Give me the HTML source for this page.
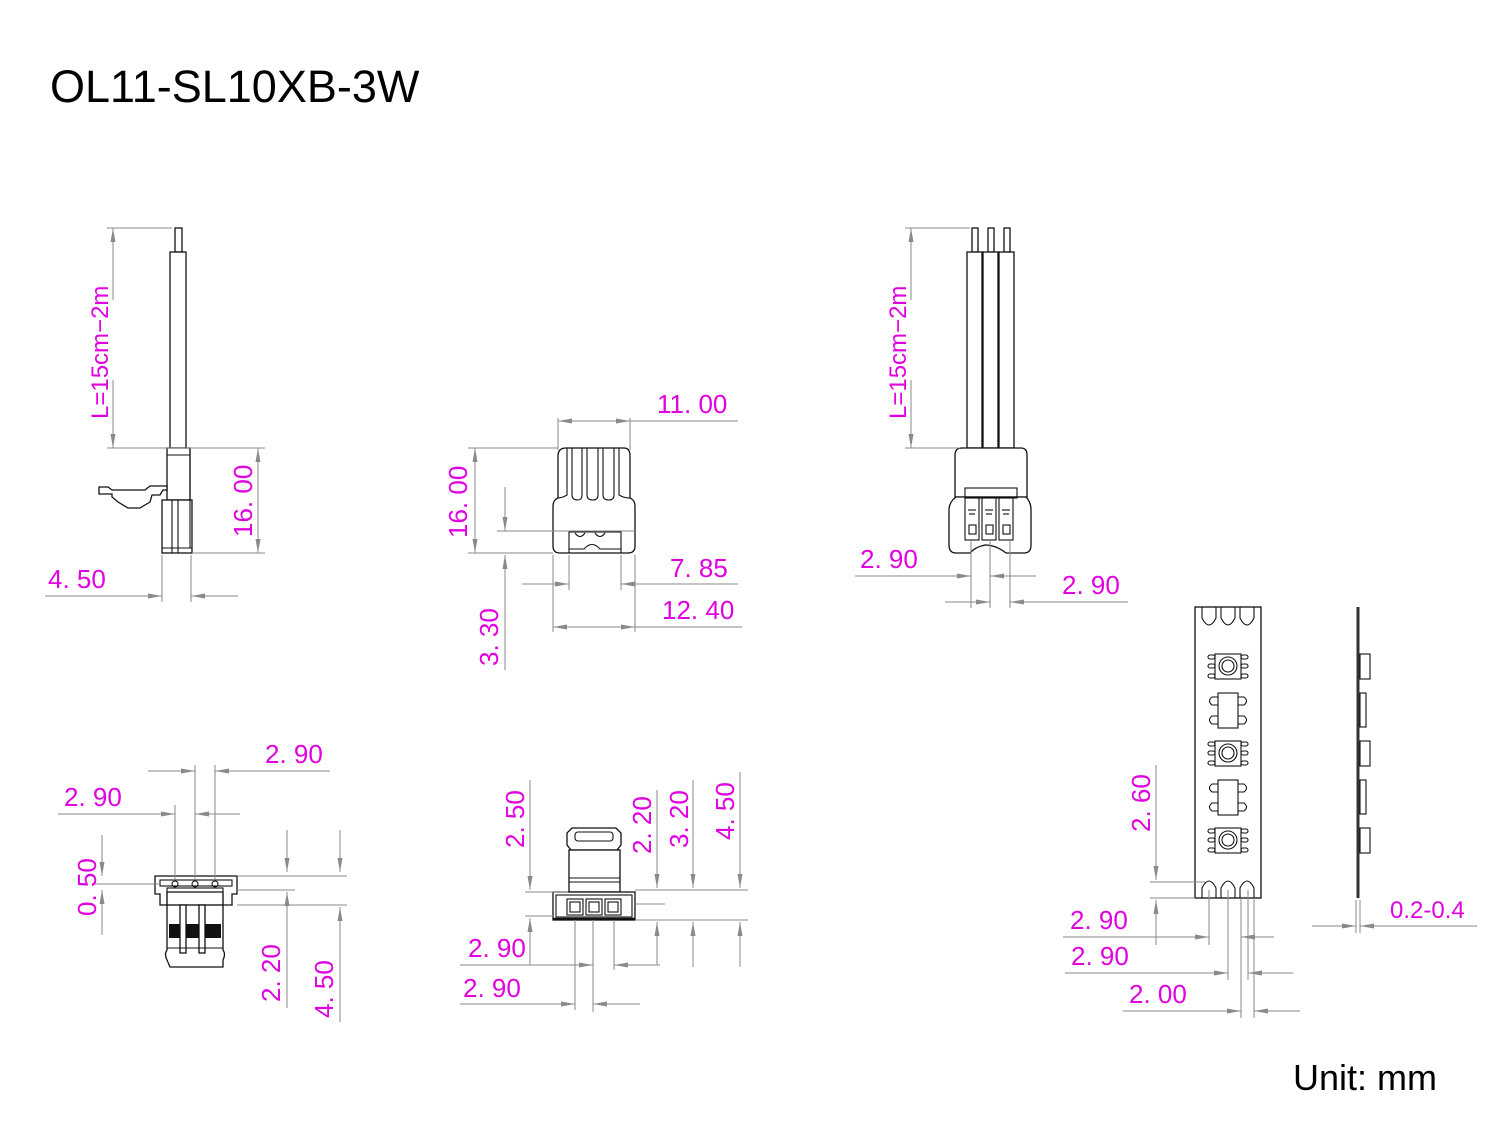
<!DOCTYPE html>
<html><head><meta charset="utf-8"><style>
html,body{margin:0;padding:0;background:#fff;}
svg{display:block}
.d{font-family:"Liberation Sans",sans-serif;font-size:26px;fill:#e000e0}
.g{stroke:#8a8a8a;stroke-width:1;fill:none}
.k{stroke:#111;stroke-width:1.3;fill:#fff}
.kl{stroke:#111;stroke-width:1.1;fill:none}
</style></head><body>
<svg width="1500" height="1125" viewBox="0 0 1500 1125" xmlns="http://www.w3.org/2000/svg">
<defs>
<marker id="a" viewBox="0 0 14 6" refX="14" refY="3" markerWidth="14" markerHeight="6" markerUnits="userSpaceOnUse" orient="auto">
<path d="M0,0.5 L14,3 L0,5.5 z" fill="#8a8a8a"/></marker>
</defs>
<text x="50" y="102" font-family="Liberation Sans, sans-serif" font-size="45" fill="#000">OL11-SL10XB-3W</text>
<text x="1293" y="1090" font-family="Liberation Sans, sans-serif" font-size="36" fill="#000">Unit: mm</text>

<!-- ===== View 1 ===== -->
<g>
<rect class="k" x="175" y="228" width="7" height="24"/>
<rect class="k" x="170" y="252" width="16" height="196"/>
<rect class="k" x="167" y="448" width="23" height="52"/>
<line class="kl" x1="167" y1="455" x2="190" y2="455"/>
<rect class="k" x="162" y="500" width="30" height="53"/>
<line class="kl" x1="172" y1="500" x2="172" y2="553"/>
<line class="kl" x1="178" y1="500" x2="178" y2="553"/>
<line class="kl" x1="162" y1="548" x2="192" y2="548"/>
<line class="kl" x1="190" y1="448" x2="190" y2="548"/>
<path class="k" d="M99,487 L99,494 L112,494 L112,497 L118,502 L128,508 L140,508 L150,502 L152,495 L160,495 L163,490 L167,490 L167,486 L150,486 L145,490 L112,490 L108,487 z"/>
<line class="g" x1="107" y1="228" x2="172" y2="228"/>
<line class="g" x1="107" y1="448" x2="265" y2="448"/>
<line class="g" x1="192" y1="553" x2="265" y2="553"/>
<line class="g" x1="113" y1="300" x2="113" y2="228" marker-end="url(#a)"/>
<line class="g" x1="113" y1="380" x2="113" y2="448" marker-end="url(#a)"/>
<line class="g" x1="258" y1="500" x2="258" y2="448" marker-end="url(#a)"/>
<line class="g" x1="258" y1="500" x2="258" y2="553" marker-end="url(#a)"/>
<line class="g" x1="162" y1="555" x2="162" y2="602"/>
<line class="g" x1="191" y1="555" x2="191" y2="602"/>
<line class="g" x1="45" y1="596" x2="162" y2="596" marker-end="url(#a)"/>
<line class="g" x1="238" y1="596" x2="191" y2="596" marker-end="url(#a)"/>
<text class="d" x="48" y="588">4. 50</text>
<text class="d" transform="translate(252,537) rotate(-90)">16. 00</text>
<text class="d" style="font-size:24px" transform="translate(108,419) rotate(-90)">L=15cm−2m</text>
</g>

<!-- ===== View 2 ===== -->
<g>
<path class="k" d="M566,448 L624,448 Q630,448 630,456 L630,498 Q635,500 635,506 L635,546 Q635,553 628,553 L560,553 Q553,553 553,546 L553,506 Q553,500 558,498 L558,456 Q558,448 566,448 z"/>
<path class="kl" d="M558,498 Q562,498 567,495 L567,448 M572,448 L572,495 Q572,500 578,500 Q582,500 582,495 L582,448 M587,448 L587,495 Q587,500 593,500 Q598,500 598,495 L598,448 M603,448 L603,495 Q603,500 609,500 Q614,500 614,495 L614,448 M619,448 L619,495 Q624,498 630,498"/>
<path class="kl" d="M569,553 L569,532 L621,532 L621,553 M569,549 L584,549 Q592,540 600,549 L621,549 M575,533 Q580,540 585,533 M595,533 Q600,540 605,533"/>
<line class="g" x1="558" y1="418" x2="558" y2="450"/>
<line class="g" x1="630" y1="418" x2="630" y2="450"/>
<line class="g" x1="594" y1="421" x2="558" y2="421" marker-end="url(#a)"/>
<line class="g" x1="594" y1="421" x2="630" y2="421" marker-end="url(#a)"/>
<line class="g" x1="630" y1="421" x2="738" y2="421"/>
<text class="d" x="657" y="413">11. 00</text>
<line class="g" x1="468" y1="448" x2="558" y2="448"/>
<line class="g" x1="468" y1="553" x2="553" y2="553"/>
<line class="g" x1="475" y1="500" x2="475" y2="448" marker-end="url(#a)"/>
<line class="g" x1="475" y1="500" x2="475" y2="553" marker-end="url(#a)"/>
<text class="d" transform="translate(467,538) rotate(-90)">16. 00</text>
<line class="g" x1="497" y1="531" x2="635" y2="531"/>
<line class="g" x1="505" y1="487" x2="505" y2="531" marker-end="url(#a)"/>
<line class="g" x1="505" y1="670" x2="505" y2="555" marker-end="url(#a)"/>
<text class="d" transform="translate(498,666) rotate(-90)">3. 30</text>
<line class="g" x1="553" y1="555" x2="553" y2="632"/>
<line class="g" x1="635" y1="555" x2="635" y2="632"/>
<line class="g" x1="569" y1="555" x2="569" y2="590"/>
<line class="g" x1="621" y1="555" x2="621" y2="590"/>
<line class="g" x1="522" y1="584" x2="569" y2="584" marker-end="url(#a)"/>
<line class="g" x1="738" y1="584" x2="621" y2="584" marker-end="url(#a)"/>
<text class="d" x="670" y="577">7. 85</text>
<line class="g" x1="594" y1="627" x2="553" y2="627" marker-end="url(#a)"/>
<line class="g" x1="594" y1="627" x2="635" y2="627" marker-end="url(#a)"/>
<line class="g" x1="635" y1="627" x2="742" y2="627"/>
<text class="d" x="662" y="619">12. 40</text>
</g>

<!-- ===== View 3 ===== -->
<g>
<rect class="k" x="972" y="228" width="6" height="24"/>
<rect class="k" x="988" y="228" width="6" height="24"/>
<rect class="k" x="1004" y="228" width="6" height="24"/>
<rect class="k" x="967" y="252" width="15" height="196"/>
<rect class="k" x="983" y="252" width="15" height="196"/>
<rect class="k" x="999" y="252" width="15" height="196"/>
<path class="k" d="M962,448 L1021,448 Q1027,448 1027,455 L1027,497 L955,497 L955,455 Q955,448 962,448 z"/>
<path class="k" d="M956,497 L1026,497 Q1031,502 1031,510 L1031,545 Q1031,553 1024,553 L1006,553 Q996,545 985,545 Q975,547 970,553 L956,553 Q949,553 949,545 L949,510 Q949,502 956,497 z"/>
<rect class="kl" x="965" y="488" width="52" height="10"/>
<g class="kl">
<rect x="965" y="498" width="14" height="42"/><rect x="982" y="498" width="14" height="42"/><rect x="999" y="498" width="14" height="42"/>
<rect x="969" y="525" width="7" height="9"/><rect x="986" y="525" width="7" height="9"/><rect x="1003" y="525" width="7" height="9"/>
<line x1="968" y1="510" x2="976" y2="510"/><line x1="985" y1="510" x2="993" y2="510"/><line x1="1002" y1="510" x2="1010" y2="510"/>
<line x1="969" y1="514" x2="975" y2="514"/><line x1="986" y1="514" x2="992" y2="514"/><line x1="1003" y1="514" x2="1009" y2="514"/>
</g>
<line class="g" x1="905" y1="228" x2="970" y2="228"/>
<line class="g" x1="905" y1="448" x2="960" y2="448"/>
<line class="g" x1="911" y1="300" x2="911" y2="228" marker-end="url(#a)"/>
<line class="g" x1="911" y1="380" x2="911" y2="448" marker-end="url(#a)"/>
<text class="d" style="font-size:24px" transform="translate(906,419) rotate(-90)">L=15cm−2m</text>
<line class="g" x1="971" y1="540" x2="971" y2="608"/>
<line class="g" x1="990" y1="540" x2="990" y2="608"/>
<line class="g" x1="1010" y1="540" x2="1010" y2="608"/>
<line class="g" x1="855" y1="576" x2="971" y2="576" marker-end="url(#a)"/>
<line class="g" x1="1036" y1="576" x2="990" y2="576" marker-end="url(#a)"/>
<text class="d" x="860" y="568">2. 90</text>
<line class="g" x1="945" y1="602" x2="990" y2="602" marker-end="url(#a)"/>
<line class="g" x1="1128" y1="602" x2="1010" y2="602" marker-end="url(#a)"/>
<text class="d" x="1062" y="594">2. 90</text>
</g>

<!-- ===== View 4 ===== -->
<g>
<path class="k" d="M155,876 L237,876 L237,894 L232,894 L232,905 L223,905 L223,892 L167,892 L167,905 L160,905 L160,894 L155,894 z"/>
<rect class="kl" x="160" y="880" width="72" height="6"/>
<path class="k" d="M167,905 L223,905 L223,950 Q226,954 223,960 L223,967 L170,967 L167,960 Q164,954 167,950 z"/>
<rect class="kl" x="167" y="888" width="56" height="17"/>
<rect x="169" y="924" width="52" height="14" fill="#111"/>
<rect class="k" x="180" y="905" width="6" height="48"/>
<rect class="k" x="199" y="905" width="6" height="48"/>
<line class="kl" x1="167" y1="948" x2="223" y2="948"/>
<circle cx="175" cy="884" r="3" class="kl"/><circle cx="195" cy="884" r="3" class="kl"/><circle cx="215" cy="884" r="3" class="kl"/>
<line class="g" x1="175" y1="805" x2="175" y2="880"/>
<line class="g" x1="195" y1="765" x2="195" y2="880"/>
<line class="g" x1="215" y1="765" x2="215" y2="880"/>
<line class="g" x1="148" y1="771" x2="195" y2="771" marker-end="url(#a)"/>
<line class="g" x1="330" y1="771" x2="215" y2="771" marker-end="url(#a)"/>
<text class="d" x="265" y="763">2. 90</text>
<line class="g" x1="58" y1="814" x2="175" y2="814" marker-end="url(#a)"/>
<line class="g" x1="240" y1="814" x2="195" y2="814" marker-end="url(#a)"/>
<text class="d" x="64" y="806">2. 90</text>
<line class="g" x1="95" y1="884" x2="160" y2="884"/>
<line class="g" x1="102" y1="835" x2="102" y2="876" marker-end="url(#a)"/>
<line class="g" x1="102" y1="935" x2="102" y2="890" marker-end="url(#a)"/>
<text class="d" transform="translate(96,916) rotate(-90)">0. 50</text>
<line class="g" x1="237" y1="876" x2="347" y2="876"/>
<line class="g" x1="237" y1="890" x2="295" y2="890"/>
<line class="g" x1="237" y1="905" x2="347" y2="905"/>
<line class="g" x1="287" y1="830" x2="287" y2="872" marker-end="url(#a)"/>
<line class="g" x1="287" y1="1008" x2="287" y2="892" marker-end="url(#a)"/>
<line class="g" x1="340" y1="830" x2="340" y2="872" marker-end="url(#a)"/>
<line class="g" x1="340" y1="1022" x2="340" y2="907" marker-end="url(#a)"/>
<text class="d" transform="translate(280,1002) rotate(-90)">2. 20</text>
<text class="d" transform="translate(333,1018) rotate(-90)">4. 50</text>
</g>

<!-- ===== View 5 ===== -->
<g>
<path class="k" d="M572,828 L616,828 L621,833 L621,845 L617,850 L571,850 L567,845 L567,833 z"/>
<rect class="kl" x="575" y="832" width="38" height="9" rx="3"/>
<rect class="k" x="569" y="850" width="51" height="42"/>
<line class="kl" x1="569" y1="878" x2="620" y2="878"/>
<line class="kl" x1="569" y1="882" x2="620" y2="882"/>
<rect class="k" x="553" y="892" width="82" height="28"/>
<rect class="kl" x="556" y="895" width="76" height="22"/>
<line x1="553" y1="919" x2="635" y2="919" stroke="#111" stroke-width="2.5"/>
<g class="kl">
<rect x="567" y="899" width="16" height="16"/><rect x="586" y="899" width="16" height="16"/><rect x="605" y="899" width="16" height="16"/>
<rect x="570" y="902" width="10" height="10"/><rect x="589" y="902" width="10" height="10"/><rect x="608" y="902" width="10" height="10"/>
</g>
<line class="g" x1="525" y1="892" x2="568" y2="892"/>
<line class="g" x1="525" y1="916" x2="553" y2="916"/>
<line class="g" x1="530" y1="780" x2="530" y2="890" marker-end="url(#a)"/>
<line class="g" x1="530" y1="965" x2="530" y2="918" marker-end="url(#a)"/>
<text class="d" transform="translate(524,848) rotate(-90)">2. 50</text>
<line class="g" x1="635" y1="890" x2="748" y2="890"/>
<line class="g" x1="635" y1="904" x2="665" y2="904"/>
<line class="g" x1="635" y1="920" x2="748" y2="920"/>
<line class="g" x1="657" y1="790" x2="657" y2="888" marker-end="url(#a)"/>
<line class="g" x1="657" y1="965" x2="657" y2="922" marker-end="url(#a)"/>
<line class="g" x1="693" y1="780" x2="693" y2="888" marker-end="url(#a)"/>
<line class="g" x1="693" y1="967" x2="693" y2="922" marker-end="url(#a)"/>
<line class="g" x1="740" y1="772" x2="740" y2="888" marker-end="url(#a)"/>
<line class="g" x1="740" y1="967" x2="740" y2="922" marker-end="url(#a)"/>
<text class="d" transform="translate(651,854) rotate(-90)">2. 20</text>
<text class="d" transform="translate(688,848) rotate(-90)">3. 20</text>
<text class="d" transform="translate(734,840) rotate(-90)">4. 50</text>
<line class="g" x1="575" y1="920" x2="575" y2="1010"/>
<line class="g" x1="593" y1="920" x2="593" y2="1012"/>
<line class="g" x1="614" y1="920" x2="614" y2="970"/>
<line class="g" x1="460" y1="965" x2="593" y2="965" marker-end="url(#a)"/>
<line class="g" x1="660" y1="965" x2="614" y2="965" marker-end="url(#a)"/>
<text class="d" x="468" y="957">2. 90</text>
<line class="g" x1="460" y1="1004" x2="575" y2="1004" marker-end="url(#a)"/>
<line class="g" x1="640" y1="1004" x2="593" y2="1004" marker-end="url(#a)"/>
<text class="d" x="463" y="997">2. 90</text>
</g>

<!-- ===== View 6 ===== -->
<g>
<rect class="k" x="1195" y="607" width="66" height="291"/>
<path class="kl" d="M1202,607 L1202,618 Q1209,632 1216,618 L1216,607 M1221,607 L1221,618 Q1228,632 1235,618 L1235,607 M1240,607 L1240,618 Q1247,632 1254,618 L1254,607"/>
<path class="kl" d="M1202,898 L1202,888 Q1209,874 1216,888 L1216,898 M1221,898 L1221,888 Q1228,874 1235,888 L1235,898 M1240,898 L1240,888 Q1247,874 1254,888 L1254,898"/>
<g id="led1" class="kl">
<rect x="1215" y="654" width="26" height="25" fill="#fff"/>
<circle cx="1228" cy="666" r="9"/><circle cx="1228" cy="666" r="6"/>
<rect x="1208" y="655" width="7" height="4" rx="2"/><rect x="1208" y="664" width="7" height="4" rx="2"/><rect x="1208" y="674" width="7" height="4" rx="2"/>
<rect x="1241" y="655" width="7" height="4" rx="2"/><rect x="1241" y="664" width="7" height="4" rx="2"/><rect x="1241" y="674" width="7" height="4" rx="2"/>
</g>
<use href="#led1" y="87"/>
<use href="#led1" y="174"/>
<g id="res1" class="kl">
<rect x="1218" y="693" width="20" height="35"/>
<path d="M1218,697 L1212,697 Q1207,701 1212,705 L1218,705 M1218,716 L1212,716 Q1207,720 1212,724 L1218,724 M1238,697 L1244,697 Q1249,701 1244,705 L1238,705 M1238,716 L1244,716 Q1249,720 1244,724 L1238,724"/>
</g>
<use href="#res1" y="87"/>
<line x1="1358" y1="607" x2="1358" y2="898" stroke="#333" stroke-width="3"/>
<g class="kl">
<rect x="1360" y="654" width="10" height="25"/><rect x="1360" y="741" width="10" height="25"/><rect x="1360" y="828" width="10" height="25"/>
<rect x="1360" y="693" width="6" height="34"/><rect x="1360" y="780" width="6" height="34"/>
</g>
<line class="g" x1="1150" y1="882" x2="1205" y2="882"/>
<line class="g" x1="1150" y1="898" x2="1195" y2="898"/>
<line class="g" x1="1156" y1="765" x2="1156" y2="880" marker-end="url(#a)"/>
<line class="g" x1="1156" y1="945" x2="1156" y2="900" marker-end="url(#a)"/>
<text class="d" transform="translate(1150,832) rotate(-90)">2. 60</text>
<line class="g" x1="1209" y1="890" x2="1209" y2="945"/>
<line class="g" x1="1228" y1="890" x2="1228" y2="980"/>
<line class="g" x1="1241" y1="898" x2="1241" y2="1018"/>
<line class="g" x1="1248" y1="890" x2="1248" y2="980"/>
<line class="g" x1="1254" y1="898" x2="1254" y2="1018"/>
<line class="g" x1="1063" y1="937" x2="1209" y2="937" marker-end="url(#a)"/>
<line class="g" x1="1274" y1="937" x2="1241" y2="937" marker-end="url(#a)"/>
<text class="d" x="1070" y="929">2. 90</text>
<line class="g" x1="1065" y1="973" x2="1228" y2="973" marker-end="url(#a)"/>
<line class="g" x1="1293" y1="973" x2="1248" y2="973" marker-end="url(#a)"/>
<text class="d" x="1071" y="965">2. 90</text>
<line class="g" x1="1123" y1="1011" x2="1241" y2="1011" marker-end="url(#a)"/>
<line class="g" x1="1300" y1="1011" x2="1254" y2="1011" marker-end="url(#a)"/>
<text class="d" x="1129" y="1003">2. 00</text>
<line class="g" x1="1356" y1="900" x2="1356" y2="933"/>
<line class="g" x1="1360" y1="900" x2="1360" y2="933"/>
<line class="g" x1="1312" y1="926" x2="1356" y2="926" marker-end="url(#a)"/>
<line class="g" x1="1477" y1="926" x2="1360" y2="926" marker-end="url(#a)"/>
<text x="1390" y="918" font-family="Liberation Sans, sans-serif" font-size="24" fill="#e000e0">0.2-0.4</text>
</g>
</svg>
</body></html>
